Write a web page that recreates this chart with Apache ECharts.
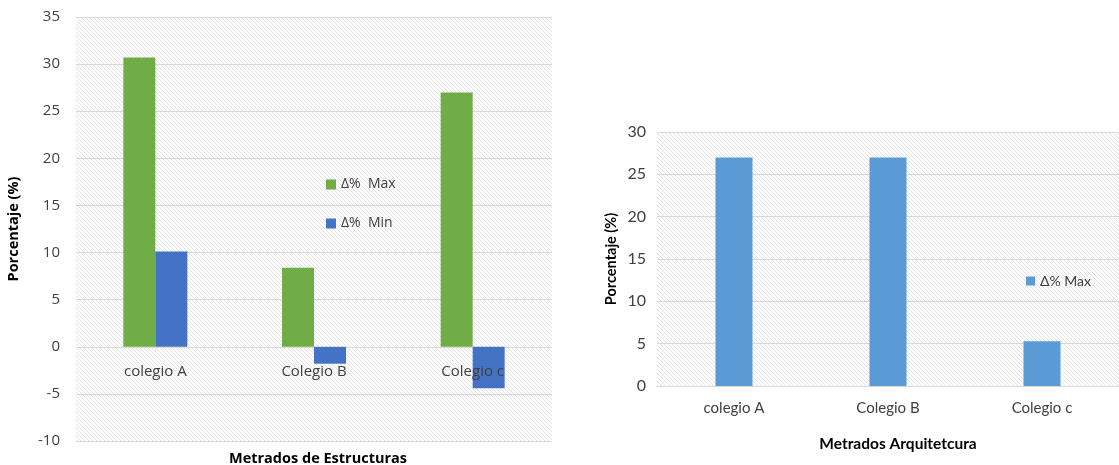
<!DOCTYPE html>
<html>
<head>
<meta charset="utf-8">
<script src="https://cdn.jsdelivr.net/npm/echarts@6/dist/echarts.min.js"></script>
<style>
  html, body { margin: 0; padding: 0; background: #fff; }
  #chart { width: 1119px; height: 465px; }
</style>
</head>
<body>
<div id="chart"></div>
<script>
// Structural quantities (left panel)
const estructurasCategories = ['colegio A', 'Colegio B', 'Colegio c'];
const estructurasMax = [30.7, 8.4, 27.0];
const estructurasMin = [10.1, -1.8, -4.4];
const estructurasTicks = { min: -10, max: 35, interval: 5 };

// Architecture quantities (right panel)
const arquitecturaCategories = ['colegio A', 'Colegio B', 'Colegio c'];
const arquitecturaMax = [27.0, 27.0, 5.3];
const arquitecturaTicks = { min: 0, max: 30, interval: 5 };

// Light diagonal hatch used as the plot-area fill
function hatchPattern() {
  const s = 4;
  const c = document.createElement('canvas');
  c.width = s; c.height = s;
  const g = c.getContext('2d');
  g.fillStyle = '#ffffff';
  g.fillRect(0, 0, s, s);
  g.strokeStyle = '#e2e2e2';
  g.lineWidth = 1;
  g.beginPath();
  g.moveTo(-1, -1); g.lineTo(s + 1, s + 1);
  g.moveTo(s - 1, -1); g.lineTo(s + 1, 1);
  g.moveTo(-1, s - 1); g.lineTo(1, s + 1);
  g.stroke();
  return { image: c, repeat: 'repeat' };
}

const chart = echarts.init(document.getElementById('chart'));
const hatch = hatchPattern();
const leftFont = '"Open Sans", "Noto Sans", sans-serif';
const rightFont = 'Lato, "Noto Sans", sans-serif';

chart.setOption({
  backgroundColor: '#ffffff',
  animation: false,
  title: [
    {
      text: 'Metrados de Estructuras',
      left: 313, top: 446, textAlign: 'center',
      textStyle: { fontFamily: leftFont, fontSize: 14.5, fontWeight: 'bold', color: '#000' }
    },
    {
      text: 'Metrados Arquitetcura',
      left: 893, top: 431, textAlign: 'center',
      textStyle: { fontFamily: rightFont, fontSize: 15.5, fontWeight: 'bold', color: '#000' }
    }
  ],
  legend: [
    {
      data: ['Δ%  Max', 'Δ%  Min'],
      orient: 'vertical',
      left: 321, top: 171,
      itemWidth: 10, itemHeight: 10, itemGap: 22,
      icon: 'rect',
      textStyle: { fontFamily: leftFont, fontSize: 14, color: '#404040', lineHeight: 17 }
    },
    {
      data: ['Δ% Max'],
      left: 1021, top: 269,
      itemWidth: 9, itemHeight: 9, itemGap: 10,
      icon: 'rect',
      textStyle: { fontFamily: rightFont, fontSize: 14, color: '#404040' }
    }
  ],
  grid: [
    { left: 76, top: 17, width: 476, height: 424, show: true, backgroundColor: hatch, borderWidth: 0 },
    { left: 657, top: 132, width: 471, height: 254, show: true, backgroundColor: hatch, borderWidth: 0 }
  ],
  xAxis: [
    {
      // labels sit just under the zero line inside the plot, drawn above the bars
      type: 'category', gridIndex: 0, data: estructurasCategories, z: 10,
      axisLine: { show: false, onZero: false },
      axisTick: { show: false },
      axisLabel: { margin: -77, fontFamily: leftFont, fontSize: 15, color: '#404040' }
    },
    {
      type: 'category', gridIndex: 1, data: arquitecturaCategories,
      axisLine: { lineStyle: { color: '#d9d9d9' } },
      axisTick: { show: false },
      axisLabel: { margin: 15, fontFamily: rightFont, fontSize: 15, color: '#404040' }
    }
  ],
  yAxis: [
    {
      type: 'value', gridIndex: 0,
      min: estructurasTicks.min, max: estructurasTicks.max, interval: estructurasTicks.interval,
      name: 'Porcentaje (%)', nameLocation: 'middle', nameGap: 55, nameRotate: 90,
      nameTextStyle: { fontFamily: leftFont, fontSize: 14.5, fontWeight: 'bold', color: '#000' },
      axisLine: { show: false }, axisTick: { show: false },
      axisLabel: { margin: 16, fontFamily: leftFont, fontSize: 15, color: '#404040' },
      splitLine: { lineStyle: { color: '#d9d9d9', width: 1 } }
    },
    {
      type: 'value', gridIndex: 1,
      min: arquitecturaTicks.min, max: arquitecturaTicks.max, interval: arquitecturaTicks.interval,
      name: 'Porcentaje (%)', nameLocation: 'middle', nameGap: 38, nameRotate: 90,
      nameTextStyle: { fontFamily: rightFont, fontSize: 14.5, fontWeight: 'bold', color: '#000' },
      axisLine: { show: false }, axisTick: { show: false },
      axisLabel: { margin: 11, fontFamily: rightFont, fontSize: 16, color: '#404040' },
      splitLine: { lineStyle: { color: '#d9d9d9', width: 1 } }
    }
  ],
  series: [
    {
      name: 'Δ%  Max', type: 'bar', xAxisIndex: 0, yAxisIndex: 0,
      data: estructurasMax, barWidth: 32, barGap: '0%',
      itemStyle: { color: '#70ad47' }
    },
    {
      name: 'Δ%  Min', type: 'bar', xAxisIndex: 0, yAxisIndex: 0,
      data: estructurasMin, barWidth: 32, barGap: '0%',
      itemStyle: { color: '#4472c4' }
    },
    {
      name: 'Δ% Max', type: 'bar', xAxisIndex: 1, yAxisIndex: 1,
      data: arquitecturaMax, barWidth: 37,
      itemStyle: { color: '#5b9bd5' }
    }
  ]
});
</script>
</body>
</html>
